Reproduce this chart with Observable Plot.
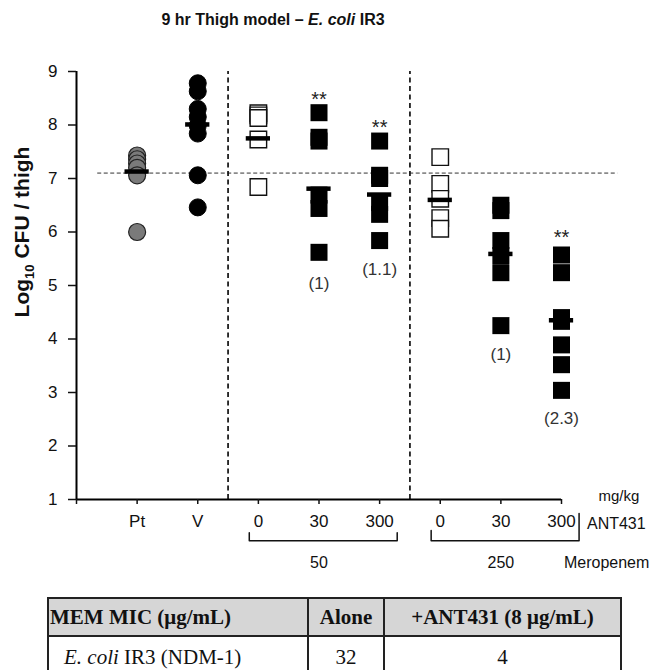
<!DOCTYPE html>
<html><head><meta charset="utf-8">
<script src="https://cdn.jsdelivr.net/npm/d3@7"></script>
<script src="https://cdn.jsdelivr.net/npm/@observablehq/plot@0.6"></script>
<style>
body{margin:0;width:654px;height:670px;overflow:hidden;background:#fff;position:relative;font-family:"Liberation Sans",Arial,sans-serif;color:#111}
#title{position:absolute;top:11px;left:0;width:546px;text-align:center;font-weight:bold;font-size:16px}
#chart{position:absolute;top:0;left:0}
#mic{position:absolute;left:47px;top:597px;border-collapse:collapse;font-family:"Liberation Serif","Times New Roman",serif;font-size:21px;color:#111}
#mic td,#mic th{border:2px solid #222;padding:0}
#mic tr.hdr th{background:#d6d6d6;height:36px;font-weight:bold}
#mic tr.row td{height:40px}
#mic .c1{width:257px;text-align:left}
#mic tr.hdr .c1{padding-left:1px}
#mic tr.row .c1{padding-left:15px;width:243px}
#mic .c2{width:74px;text-align:center}
#mic .c3{width:235px;text-align:center}
</style></head>
<body>
<div id="title">9 hr Thigh model – <i>E. coli</i> IR3</div>
<div id="chart"></div>
<script>
// ---- data ----
const categories = ["Pt", "V", "0", "30", "300", "0", "30", "300"]; // x positions 1..8
const yTicks = [1, 2, 3, 4, 5, 6, 7, 8, 9];
const ptValues      = [7.43, 7.36, 7.28, 7.20, 7.06, 6.00];
const vValues       = [8.78, 8.63, 8.30, 8.15, 7.99, 7.84, 7.06, 6.46];
const mem50ant0     = [8.22, 8.18, 8.13, 7.73, 6.84];
const mem50ant30    = [8.23, 7.77, 7.70, 6.69, 6.44, 5.62];
const mem50ant300   = [7.70, 7.06, 7.00, 6.55, 6.33, 5.84];
const mem250ant0    = [7.40, 6.90, 6.62, 6.26, 6.06];
const mem250ant30   = [6.50, 6.40, 5.84, 5.56, 5.24, 4.25];
const mem250ant300  = [5.57, 5.24, 4.40, 4.33, 3.89, 3.52, 3.04];
const groupMeans    = [7.13, 8.01, 7.75, 6.81, 6.70, 6.60, 5.59, 4.35];
const stasisLevel   = 7.1;
const significance  = [{cat: 4, y: 8.48, text: "**"}, {cat: 5, y: 7.95, text: "**"}, {cat: 8, y: 5.89, text: "**"}];
const foldLabels    = [{cat: 4, y: 5.04, text: "(1)"}, {cat: 5, y: 5.30, text: "(1.1)"}, {cat: 7, y: 3.71, text: "(1)"}, {cat: 8, y: 2.51, text: "(2.3)"}];
const meropenemGroups = [{label: "50", first: 3, last: 5}, {label: "250", first: 6, last: 8}];
const dividers = [2.5, 5.5];
const micHeader = ["MEM MIC (μg/mL)", "Alone", "+ANT431 (8 μg/mL)"];
const micRows = [[["E. coli", " IR3 (NDM-1)"], "32", "4"]];

// ---- build ----
const toRows = (cat, vals) => vals.map(v => ({cat, y: v}));
const greyCircles = toRows(1, ptValues);
const blackCircles = toRows(2, vValues);
const openSquares = [...toRows(3, mem50ant0), ...toRows(6, mem250ant0)];
const blackSquares = [...toRows(4, mem50ant30), ...toRows(5, mem50ant300), ...toRows(7, mem250ant30), ...toRows(8, mem250ant300)];
const means = groupMeans.map((m, i) => ({cat: i + 1, y: m}));

// brackets under the axis (in scale units below the domain)
const bracketRows = meropenemGroups.flatMap((g, gi) => {
  const l = g.first - 0.15, r = g.last + 0.29, b = 0.23;
  const tl = gi === 0 ? 0.38 : 0.42, tr = gi === 0 ? 0.38 : 0.74;
  return [{g: gi, x: l, y: tl}, {g: gi, x: l, y: b}, {g: gi, x: r, y: b}, {g: gi, x: r, y: tr}];
});

const font = '"Liberation Sans", Arial, sans-serif';
const plot = Plot.plot({
  width: 654, height: 590,
  marginLeft: 76, marginRight: 93, marginTop: 71, marginBottom: 91,
  x: {domain: [0, 8]},
  y: {domain: [1, 9]},
  style: {fontFamily: font, fontSize: "16px", color: "#111", background: "transparent", overflow: "visible"},
  marks: [
    Plot.ruleY([stasisLevel], {x1: 0.35, x2: 8.93, stroke: "#8a8a8a", strokeWidth: 1.6, strokeDasharray: "4,2.5"}),
    Plot.ruleX(dividers, {y1: 1, y2: 9, stroke: "#111", strokeWidth: 1.7, strokeDasharray: "5,3.5"}),
    Plot.dot(greyCircles, {x: "cat", y: "y", r: 8.5, fill: "#7a7a7a", stroke: "#222", strokeWidth: 1.2}),
    Plot.dot(blackCircles, {x: "cat", y: "y", r: 8.5, fill: "#000", stroke: "#000", strokeWidth: 1}),
    Plot.dot(openSquares, {x: "cat", y: "y", r: 9.3, symbol: "square", fill: "#fff", stroke: "#111", strokeWidth: 1.4}),
    Plot.dot(blackSquares, {x: "cat", y: "y", r: 9.6, symbol: "square", fill: "#000", stroke: "none"}),
    Plot.ruleY(means, {y: "y", x1: d => d.cat - 0.2, x2: d => d.cat + 0.2, stroke: "#000", strokeWidth: 4.5}),
    Plot.text(significance, {x: "cat", y: "y", text: "text", fontSize: 20, fill: "#222"}),
    Plot.text(foldLabels, {x: "cat", y: "y", text: "text", fontSize: 17, fill: "#333"}),
    Plot.ruleX([0], {y1: 1, y2: 9, stroke: "#000", strokeWidth: 2}),
    Plot.ruleY([1], {x1: 0, x2: 8, stroke: "#000", strokeWidth: 2}),
    Plot.axisY({ticks: yTicks, tickSize: 8, tickPadding: 11, label: null, fontSize: 17, strokeWidth: 1.5}),
    Plot.axisX({ticks: d3.range(0, 9), tickSize: 5, tickPadding: 10, label: null, fontSize: 17, strokeWidth: 1.5,
      tickFormat: i => categories[i - 1] ?? ""}),
    Plot.line(bracketRows, {x: "x", y: "y", z: "g", stroke: "#111", strokeWidth: 1.5}),
    Plot.text(meropenemGroups, {x: d => (d.first + d.last) / 2, y: () => -0.18, text: "label", fontSize: 16}),
    Plot.text(["mg/kg"], {x: () => 8.61, y: () => 1.07, text: d => d, textAnchor: "start", fontSize: 15}),
    Plot.text(["ANT431"], {x: () => 8.42, y: () => 0.55, text: d => d, textAnchor: "start", fontSize: 16}),
    Plot.text(["Meropenem"], {x: () => 8.04, y: () => -0.18, text: d => d, textAnchor: "start", fontSize: 16})
  ]
});
document.getElementById("chart").appendChild(plot);

// y-axis title with subscript
const svg = d3.select(plot);
const yl = svg.append("text")
  .attr("transform", "translate(29,232) rotate(-90)")
  .attr("text-anchor", "middle")
  .attr("font-weight", "bold").attr("font-size", 21).attr("font-family", font).attr("fill", "#111");
yl.append("tspan").text("Log");
yl.append("tspan").attr("font-size", 13).attr("dy", 5).text("10");
yl.append("tspan").attr("dy", -5).text(" CFU / thigh");

// MIC table
const tbl = d3.select("body").append("table").attr("id", "mic");
const hr = tbl.append("tr").attr("class", "hdr");
micHeader.forEach((h, i) => hr.append("th").attr("class", "c" + (i + 1)).text(h));
micRows.forEach(r => {
  const tr = tbl.append("tr").attr("class", "row");
  const c1 = tr.append("td").attr("class", "c1");
  c1.append("i").text(r[0][0]); c1.append("span").text(r[0][1]);
  tr.append("td").attr("class", "c2").text(r[1]);
  tr.append("td").attr("class", "c3").text(r[2]);
});
</script>
</body></html>
